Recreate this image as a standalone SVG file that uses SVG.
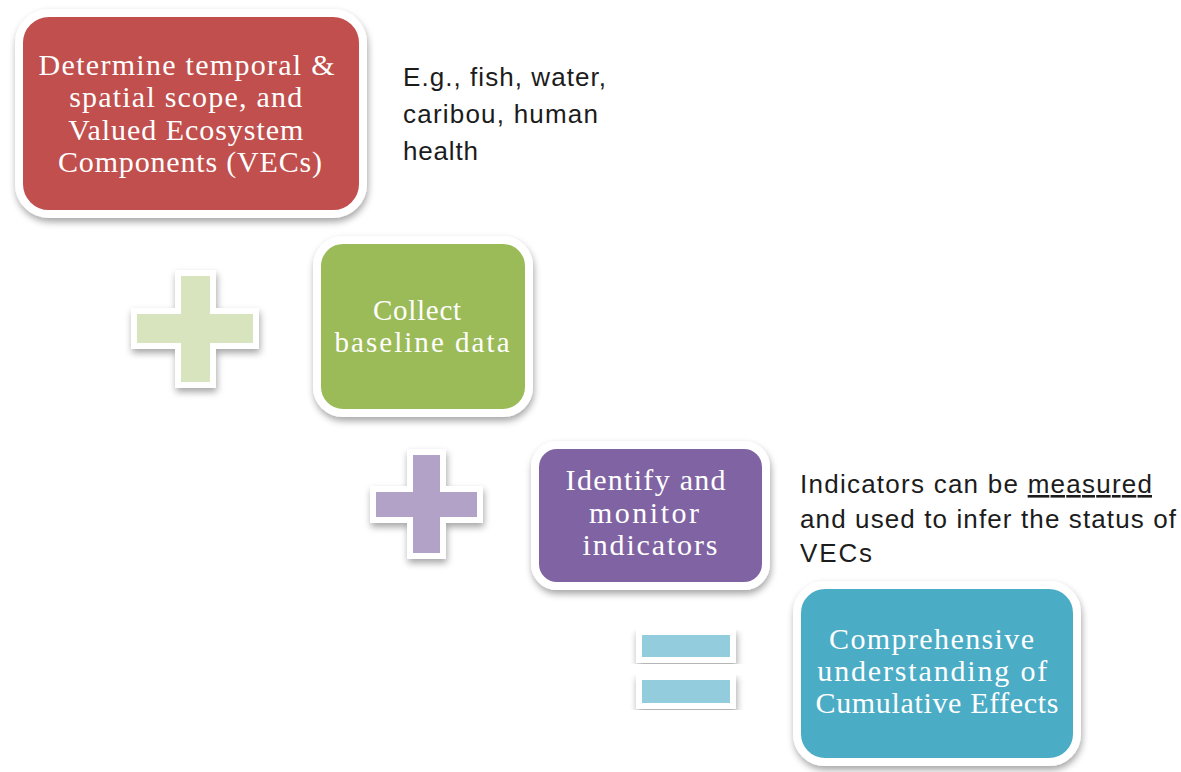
<svg xmlns="http://www.w3.org/2000/svg" width="1181" height="772" viewBox="0 0 1181 772">
  <defs>
    <filter id="shadow" x="-20%" y="-20%" width="140%" height="150%">
      <feDropShadow dx="1" dy="4" stdDeviation="3.5" flood-color="#000" flood-opacity="0.35"/>
    </filter>
  </defs>
  <style>
    .box { stroke: #ffffff; stroke-width: 8; filter: url(#shadow); }
    .sym { stroke: #ffffff; stroke-width: 12; stroke-linejoin: miter; filter: url(#shadow); paint-order: stroke; }
    .label { font-family: "Liberation Serif", "DejaVu Serif", serif; font-size: 30px; fill: #ffffff; text-anchor: middle; }
    .note { font-family: "Liberation Sans", Arial, sans-serif; font-size: 26px; fill: #1c1c1c; }
  </style>
  <rect width="1181" height="772" fill="#ffffff"/>

  <!-- operators between the steps -->
  <g id="plus-green">
    <path class="sym" fill="#D7E4BD" d="M181,276 H210 V314 H253 V343 H210 V382 H181 V343 H137 V314 H181 Z"/>
  </g>
  <g id="plus-purple">
    <path class="sym" fill="#B3A2C7" d="M413,455 H440 V492 H477 V517 H440 V553 H413 V517 H376 V492 H413 Z"/>
  </g>
  <g id="equals">
    <rect class="sym" fill="#93CDDD" x="642" y="635" width="88" height="22"/>
    <rect class="sym" fill="#93CDDD" x="642" y="680" width="88" height="23"/>
  </g>

  <!-- step boxes -->
  <g id="scope">
    <rect class="box" x="19" y="13" width="344" height="201" rx="30" fill="#C0504D"/>
    <text class="label">
      <tspan x="191" y="75" textLength="296" lengthAdjust="spacing">Determine temporal &amp;</tspan>
      <tspan x="190" y="107" textLength="233" lengthAdjust="spacing">spatial scope, and</tspan>
      <tspan x="190" y="140" textLength="235" lengthAdjust="spacing">Valued Ecosystem</tspan>
      <tspan x="190" y="172" textLength="264" lengthAdjust="spacing">Components (VECs)</tspan>
    </text>
  </g>
  <g id="baseline">
    <rect class="box" x="317" y="240" width="212" height="173" rx="26" fill="#9BBB59"/>
    <text class="label" style="font-size:29px">
      <tspan x="421" y="320" textLength="88" lengthAdjust="spacing">Collect</tspan>
      <tspan x="422" y="352" textLength="175" lengthAdjust="spacing">baseline data</tspan>
    </text>
  </g>
  <g id="indicators">
    <rect class="box" x="535" y="445" width="231" height="141" rx="22" fill="#8064A2"/>
    <text class="label">
      <tspan x="650" y="490" textLength="160" lengthAdjust="spacing">Identify and</tspan>
      <tspan x="649" y="523" textLength="110" lengthAdjust="spacing">monitor</tspan>
      <tspan x="650" y="555" textLength="135" lengthAdjust="spacing">indicators</tspan>
    </text>
  </g>
  <g id="result">
    <rect class="box" x="797" y="585" width="280" height="177" rx="28" fill="#4BACC6"/>
    <text class="label">
      <tspan x="936" y="649" textLength="205" lengthAdjust="spacing">Comprehensive</tspan>
      <tspan x="937" y="681" textLength="230" lengthAdjust="spacing">understanding of</tspan>
      <tspan x="937" y="713" textLength="243" lengthAdjust="spacing">Cumulative Effects</tspan>
    </text>
  </g>

  <!-- side notes -->
  <g id="note-vecs">
    <text class="note">
      <tspan x="403" y="86" textLength="203" lengthAdjust="spacing">E.g., fish, water,</tspan>
      <tspan x="403" y="123" textLength="195" lengthAdjust="spacing">caribou, human</tspan>
      <tspan x="403" y="160" textLength="75" lengthAdjust="spacing">health</tspan>
    </text>
  </g>
  <g id="note-indicators">
    <text class="note" x="800" y="493" textLength="352" lengthAdjust="spacing">Indicators can be <tspan text-decoration="underline">measured</tspan></text>
    <text class="note" x="800" y="528" textLength="376" lengthAdjust="spacing">and used to infer the status of</text>
    <text class="note" x="800" y="562" textLength="72" lengthAdjust="spacing">VECs</text>
  </g>
</svg>
